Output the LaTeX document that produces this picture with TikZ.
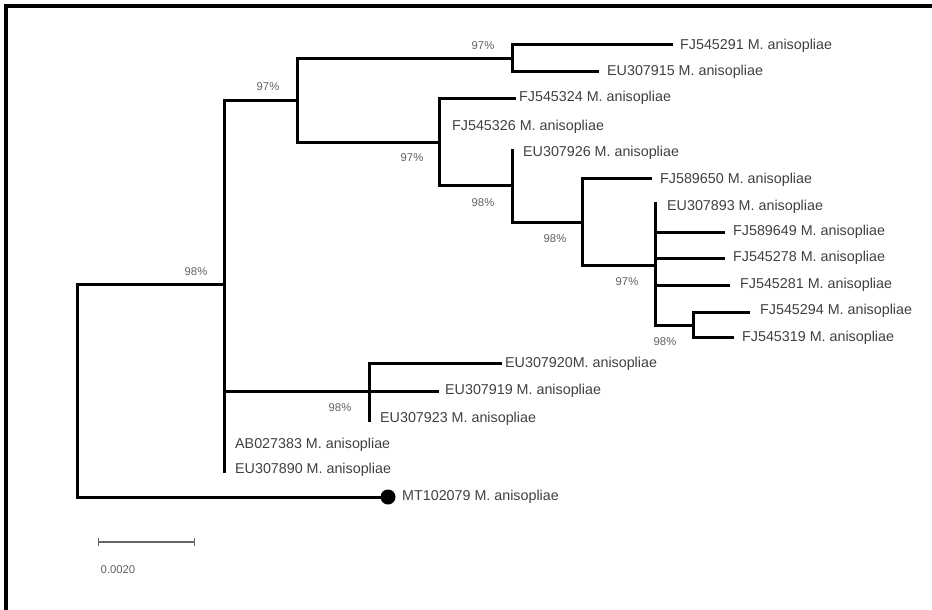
\documentclass[tikz,border=0pt]{standalone}
\usepackage{fontspec}
\setmainfont{Liberation Sans}
\begin{document}
\begin{tikzpicture}[x=1pt,y=-1pt,
  br/.style={line width=3pt,line cap=rect},
  leaf/.style={anchor=west,inner sep=0pt,text=black!75,font=\fontsize{14.3}{16}\selectfont},
  boot/.style={inner sep=0pt,text=black!62,font=\fontsize{11.3}{13}\selectfont}]
\useasboundingbox (0,0) rectangle (932,610);
% frame
\draw[line width=3.5pt] (6,610) -- (6,6) -- (932,6);
% internal nodes
\coordinate (r) at (77,390);
\coordinate (A) at (224,284);
\coordinate (B) at (297,100);
\coordinate (C) at (512,59);
\coordinate (D) at (439,142);
\coordinate (E) at (512,185);
\coordinate (F) at (582,222);
\coordinate (G) at (655,265);
\coordinate (H) at (693,325);
\coordinate (I) at (369,391);
% tips
\coordinate (t1) at (671,45);
\coordinate (t2) at (597,72);
\coordinate (t3) at (514,98);
\coordinate (t4) at (439,127);
\coordinate (t5) at (512,150);
\coordinate (t6) at (650,178);
\coordinate (t7) at (655,203);
\coordinate (t8) at (723,232);
\coordinate (t9) at (723,258);
\coordinate (t10) at (728,285);
\coordinate (t11) at (748,312);
\coordinate (t12) at (732,337);
\coordinate (t13) at (500,363);
\coordinate (t14) at (437,391);
\coordinate (t15) at (369,420);
\coordinate (t16) at (224,445);
\coordinate (t17) at (224,471);
\coordinate (t18) at (388,497);
% branches
\draw[br] (r) |- (A);
\draw[br] (r) |- (t18);
\draw[br] (A) |- (B);
\draw[br] (A) |- (I);
\draw[br] (A) |- (t16);
\draw[br] (A) |- (t17);
\draw[br] (B) |- (C);
\draw[br] (B) |- (D);
\draw[br] (C) |- (t1);
\draw[br] (C) |- (t2);
\draw[br] (D) |- (t3);
\draw[br] (D) |- (t4);
\draw[br] (D) |- (E);
\draw[br] (E) |- (t5);
\draw[br] (E) |- (F);
\draw[br] (F) |- (t6);
\draw[br] (F) |- (G);
\draw[br] (G) |- (t7);
\draw[br] (G) |- (t8);
\draw[br] (G) |- (t9);
\draw[br] (G) |- (t10);
\draw[br] (G) |- (H);
\draw[br] (H) |- (t11);
\draw[br] (H) |- (t12);
\draw[br] (I) |- (t13);
\draw[br] (I) |- (t14);
\draw[br] (I) |- (t15);
\fill (t18) circle (7.5);
% leaf labels
\node[leaf] (l1) at (680,46) {FJ545291 M. anisopliae};
\node[leaf] (l2) at (607,72) {EU307915 M. anisopliae};
\node[leaf] (l3) at (519,98) {FJ545324 M. anisopliae};
\node[leaf] (l4) at (452,127) {FJ545326 M. anisopliae};
\node[leaf] (l5) at (523,153) {EU307926 M. anisopliae};
\node[leaf] (l6) at (660,180) {FJ589650 M. anisopliae};
\node[leaf] (l7) at (667,207) {EU307893 M. anisopliae};
\node[leaf] (l8) at (733,232) {FJ589649 M. anisopliae};
\node[leaf] (l9) at (733,258) {FJ545278 M. anisopliae};
\node[leaf] (l10) at (740,285) {FJ545281 M. anisopliae};
\node[leaf] (l11) at (760,311) {FJ545294 M. anisopliae};
\node[leaf] (l12) at (742,338) {FJ545319 M. anisopliae};
\node[leaf] (l13) at (505,364) {EU307920M. anisopliae};
\node[leaf] (l14) at (445,391) {EU307919 M. anisopliae};
\node[leaf] (l15) at (380,419) {EU307923 M. anisopliae};
\node[leaf] (l16) at (235,445) {AB027383 M. anisopliae};
\node[leaf] (l17) at (235,470) {EU307890 M. anisopliae};
\node[leaf] (l18) at (402,497) {MT102079 M. anisopliae};
% bootstrap values
\node[boot] (b1) at (196,272) {98\%};
\node[boot] (b2) at (268,87) {97\%};
\node[boot] (b3) at (483,46) {97\%};
\node[boot] (b4) at (412,158) {97\%};
\node[boot] (b5) at (483,203) {98\%};
\node[boot] (b6) at (555,239) {98\%};
\node[boot] (b7) at (627,282) {97\%};
\node[boot] (b8) at (665,342) {98\%};
\node[boot] (b9) at (340,408) {98\%};
% scale bar
\coordinate (s1) at (98,542);
\coordinate (s2) at (194,542);
\draw[black!60,line width=1.3pt] (s1) -- (s2);
\draw[black!60,line width=1pt] ([yshift=-4pt]s1) -- ([yshift=4pt]s1);
\draw[black!60,line width=1pt] ([yshift=-4pt]s2) -- ([yshift=4pt]s2);
\node[boot] (sc) at (118,570) {0.0020};
\end{tikzpicture}
\end{document}
